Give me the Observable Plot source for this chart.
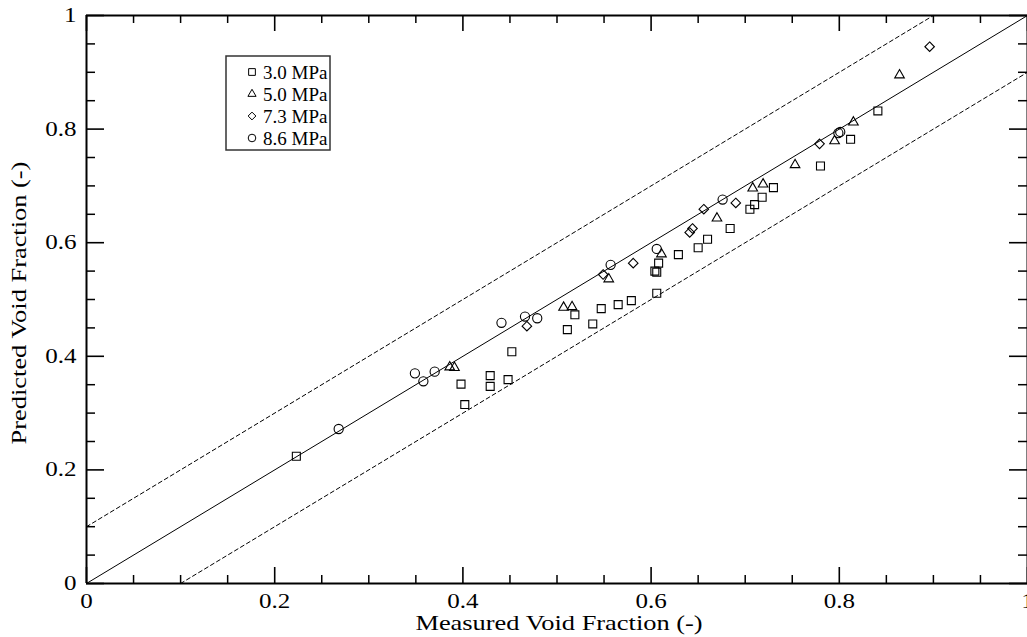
<!DOCTYPE html>
<html><head><meta charset="utf-8">
<script src="https://cdn.jsdelivr.net/npm/d3@7"></script>
<script src="https://cdn.jsdelivr.net/npm/@observablehq/plot@0.6"></script>
<style>
html,body{margin:0;padding:0;background:#fff;overflow:hidden}
#chart{position:relative;width:1027px;height:637px}
#chart svg text{font-family:"Liberation Serif",serif !important}
</style></head><body><div id="chart"></div>
<script>
// ---- data ----
const seriesNames = ["3.0 MPa", "5.0 MPa", "7.3 MPa", "8.6 MPa"];

const p30x = [0.223,0.402,0.398,0.429,0.429,0.448,0.452,0.511,0.519,0.538,0.547,0.565,0.579,0.606,0.604,0.606,0.608,0.629,0.650,0.660,0.684,0.705,0.710,0.718,0.730,0.780,0.812,0.841];
const p30y = [0.224,0.315,0.351,0.366,0.347,0.359,0.408,0.447,0.473,0.457,0.484,0.491,0.498,0.511,0.550,0.548,0.564,0.579,0.591,0.606,0.625,0.659,0.667,0.680,0.697,0.735,0.782,0.832];

const p50x = [0.386,0.391,0.507,0.516,0.555,0.611,0.670,0.708,0.719,0.753,0.795,0.815,0.864];
const p50y = [0.381,0.380,0.486,0.487,0.536,0.580,0.643,0.696,0.703,0.737,0.779,0.812,0.895];

const p73x = [0.468,0.549,0.581,0.641,0.644,0.656,0.690,0.779,0.896];
const p73y = [0.453,0.544,0.564,0.618,0.625,0.659,0.670,0.774,0.945];

const p86x = [0.268,0.349,0.358,0.370,0.441,0.466,0.479,0.557,0.606,0.676,0.799,0.801];
const p86y = [0.272,0.370,0.356,0.373,0.459,0.470,0.467,0.561,0.589,0.676,0.793,0.795];

// parity line and ±0.1 band
const parityX = [0, 1];   const parityY = [0, 1];
const upperX  = [0, 0.9]; const upperY  = [0.1, 1];
const lowerX  = [0.1, 1]; const lowerY  = [0, 0.9];

const xTicks = [0, 0.2, 0.4, 0.6, 0.8, 1];
const yTicks = [0, 0.2, 0.4, 0.6, 0.8, 1];
const minorTicks = [0.05,0.1,0.15,0.25,0.3,0.35,0.45,0.5,0.55,0.65,0.7,0.75,0.85,0.9,0.95];

const xTitle = "Measured Void Fraction (-)";
const yTitle = "Predicted Void Fraction (-)";

// ---- build tables ----
const zip = (xs, ys) => xs.map((x, i) => ({x, y: ys[i]}));
const s30 = zip(p30x, p30y), s50 = zip(p50x, p50y), s73 = zip(p73x, p73y), s86 = zip(p86x, p86y);
const parity = zip(parityX, parityY), upper = zip(upperX, upperY), lower = zip(lowerX, lowerY);

// ---- layout ----
const W = 1027, H = 637, mL = 86, mR = 0, mT = 15, mB = 54;
const innerW = W - mL - mR, innerH = H - mT - mB;
const FONT = "Liberation Serif";

const dotOpts = {x: "x", y: "y", fill: "none", stroke: "#000", strokeWidth: 1.1};

const chart = Plot.plot({
  width: W, height: H,
  marginLeft: mL, marginRight: mR, marginTop: mT, marginBottom: mB,
  x: {domain: [0, 1]},
  y: {domain: [0, 1]},
  style: {fontSize: "20px", background: "#fff", color: "#000", overflow: "visible"},
  marks: [
    Plot.line(parity, {x: "x", y: "y", stroke: "#000", strokeWidth: 1}),
    Plot.line(upper, {x: "x", y: "y", stroke: "#000", strokeWidth: 1, strokeDasharray: "4,3"}),
    Plot.line(lower, {x: "x", y: "y", stroke: "#000", strokeWidth: 1, strokeDasharray: "4,3"}),
    // inward ticks on all four sides
    Plot.tickX(xTicks, {x: d => d, insetTop: innerH - 16, stroke: "#000", strokeWidth: 1.6}),
    Plot.tickX(minorTicks, {x: d => d, insetTop: innerH - 8, stroke: "#000", strokeWidth: 1.5}),
    Plot.tickX(xTicks, {x: d => d, insetBottom: innerH - 16, stroke: "#000", strokeWidth: 1.6}),
    Plot.tickX(minorTicks, {x: d => d, insetBottom: innerH - 8, stroke: "#000", strokeWidth: 1.5}),
    Plot.tickY(yTicks, {y: d => d, insetRight: innerW - 18, stroke: "#000", strokeWidth: 1.6}),
    Plot.tickY(minorTicks, {y: d => d, insetRight: innerW - 9, stroke: "#000", strokeWidth: 1.5}),
    Plot.tickY(yTicks, {y: d => d, insetLeft: innerW - 18, stroke: "#000", strokeWidth: 1.6}),
    Plot.tickY(minorTicks, {y: d => d, insetLeft: innerW - 9, stroke: "#000", strokeWidth: 1.5}),
    // frame lines
    Plot.ruleX([0, 1], {stroke: "#000", strokeWidth: 2}),
    Plot.ruleY([0, 1], {stroke: "#000", strokeWidth: 2}),
    // tick labels
    Plot.axisX({ticks: xTicks, tickSize: 0, tickPadding: 10, tickFormat: d => String(d), label: null, fontFamily: FONT}),
    Plot.axisY({ticks: yTicks, tickSize: 0, tickPadding: 10, tickFormat: d => String(d), label: null, fontFamily: FONT}),
    // data
    Plot.dot(s30, {...dotOpts, symbol: "square", r: 4.5}),
    Plot.dot(s50, {...dotOpts, symbol: "triangle2", r: 4.6}),
    Plot.dot(s73, {...dotOpts, symbol: "diamond2", r: 4.3}),
    Plot.dot(s86, {...dotOpts, symbol: "circle", r: 4.6})
  ]
});

chart.setAttribute("font-family", FONT);
document.getElementById("chart").appendChild(chart);
const svg = d3.select(chart);

// stretch tick labels slightly along their direction (as in the reference rendering)
svg.selectAll("text").each(function () {
  this.setAttribute("font-family", FONT);
  const len = this.getComputedTextLength();
  if (len > 0) {
    this.setAttribute("textLength", (len * 1.25).toFixed(1));
    this.setAttribute("lengthAdjust", "spacingAndGlyphs");
  }
});

function addText(sel, txt, size, factor, anchor) {
  const t = sel.append("text").attr("font-family", FONT).attr("font-size", size)
    .attr("text-anchor", anchor).attr("fill", "#000").text(txt);
  if (factor !== 1) {
    const len = t.node().getComputedTextLength();
    t.attr("textLength", (len * factor).toFixed(1)).attr("lengthAdjust", "spacingAndGlyphs");
  }
  return t;
}

// axis titles
addText(svg.append("g").attr("transform", "translate(559,630)"), xTitle, 22, 1.2, "middle");
addText(svg.append("g").attr("transform", "translate(26,303) rotate(-90)"), yTitle, 22, 1.2, "middle");

// legend box
const leg = svg.append("g").attr("transform", "translate(226,56)");
leg.append("rect").attr("width", 104).attr("height", 94)
  .attr("fill", "#fff").attr("stroke", "#333").attr("stroke-width", 1.5);
const legSymbols = [d3.symbolSquare, d3.symbolTriangle2, d3.symbolDiamond2, d3.symbolCircle];
const legR = [3.8, 3.9, 3.5, 3.8];
seriesNames.forEach((name, i) => {
  const row = leg.append("g").attr("transform", `translate(0,${16 + i * 22})`);
  row.append("path")
    .attr("transform", "translate(26,0)")
    .attr("d", d3.symbol(legSymbols[i], Math.PI * legR[i] * legR[i])())
    .attr("fill", "none").attr("stroke", "#000").attr("stroke-width", 1);
  addText(row.append("g").attr("transform", "translate(37,6.5)"), name, 19, 1, "start");
});
</script></body></html>
